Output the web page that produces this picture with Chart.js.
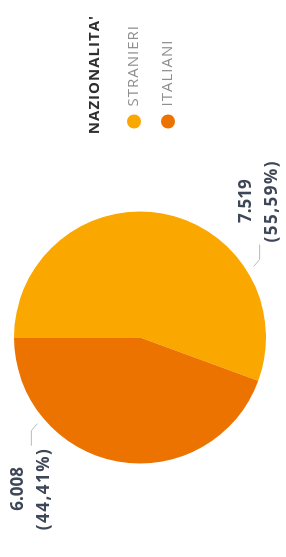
<!DOCTYPE html>
<html>
<head>
<meta charset="utf-8">
<script src="https://cdn.jsdelivr.net/npm/chart.js@4.4.1/dist/chart.umd.min.js"></script>
<style>
    html, body { margin: 0; padding: 0; background: #fff; overflow: hidden; }
    /* chart is laid out 557x286 and turned on its side */
    #wrap {
        position: absolute; left: 0; top: 0;
        width: 557px; height: 286px;
        transform-origin: 0 0;
        transform: translate(0, 557px) rotate(-90deg);
    }
</style>
</head>
<body>
<div id="wrap"><canvas id="pieChart" width="557" height="286"></canvas></div>
<script>
// Data
const categories = ['STRANIERI', 'ITALIANI'];
const values = [7519, 6008];
const legendTitle = "NAZIONALITA'";
const sliceColors = ['#FAA700', '#EC7300'];

// Format helpers (italian style: 7.519 / 55,59%)
function formatNumber(n) {
    return String(n).replace(/\B(?=(\d{3})+(?!\d))/g, '.');
}
function formatPercent(v, total) {
    return (v / total * 100).toFixed(2).replace('.', ',') + '%';
}

// Legend text in the picture is spaced out a bit
const letterSpacingPlugin = {
    id: 'letterSpacing',
    beforeLayout(chart) { chart.ctx.letterSpacing = '1px'; },
    beforeDraw(chart) { chart.ctx.letterSpacing = '1px'; }
};

// Value labels with a small bent leader line
const sliceLabelsPlugin = {
    id: 'sliceLabels',
    afterDatasetsDraw(chart, args, opts) {
        const ctx = chart.ctx;
        const meta = chart.getDatasetMeta(0);
        const data = chart.data.datasets[0].data;
        const total = data.reduce((a, b) => a + b, 0);

        meta.data.forEach(function(arc, i) {
            const p = arc.getProps(['x', 'y', 'outerRadius'], true);
            const ang = opts.anchorAngles[i] * Math.PI / 180;
            const r = p.outerRadius + 8;
            const side = Math.cos(ang) >= 0 ? 1 : -1;
            const vside = Math.sin(ang) >= 0 ? 1 : -1;

            const x0 = p.x + Math.cos(ang) * r;
            const y0 = p.y + Math.sin(ang) * r;
            const x1 = x0 + side * 7;
            const y1 = y0 + vside * 6;
            const x2 = x1 + side * 15;

            ctx.save();
            ctx.strokeStyle = '#b3bac6';
            ctx.lineWidth = 1;
            ctx.beginPath();
            ctx.moveTo(x0, y0);
            ctx.lineTo(x1, y1);
            ctx.lineTo(x2, y1);
            ctx.stroke();

            const line1 = formatNumber(data[i]);
            const line2 = '(' + formatPercent(data[i], total) + ')';

            ctx.fillStyle = '#3e4757';
            ctx.textBaseline = 'middle';
            ctx.textAlign = 'center';
            ctx.font = 'bold 17px "Open Sans", sans-serif';
            ctx.letterSpacing = '0px';
            const w1 = ctx.measureText(line1).width;
            ctx.letterSpacing = '1.5px';
            const w2 = ctx.measureText(line2).width;
            const blockW = Math.max(w1, w2);
            const cx = x2 + side * (2 + blockW / 2);

            ctx.letterSpacing = '0px';
            ctx.fillText(line1, cx, y1 - 13);
            ctx.letterSpacing = '1.5px';
            ctx.fillText(line2, cx, y1 + 13);
            ctx.restore();
        });
    }
};

const ctx = document.getElementById('pieChart').getContext('2d');
new Chart(ctx, {
    type: 'pie',
    data: {
        labels: categories,
        datasets: [{
            data: values,
            backgroundColor: sliceColors,
            borderWidth: 0,
            hoverOffset: 0
        }]
    },
    options: {
        responsive: false,
        animation: false,
        layout: {
            padding: { left: 30, right: 15, top: 14, bottom: 20 }
        },
        plugins: {
            legend: {
                position: 'right',
                align: 'center',
                title: {
                    display: true,
                    text: legendTitle,
                    position: 'end',
                    color: '#2f2f2f',
                    padding: 2,
                    font: { family: '"Open Sans", sans-serif', size: 15, weight: 'bold' }
                },
                labels: {
                    usePointStyle: true,
                    pointStyle: 'circle',
                    boxWidth: 15,
                    boxHeight: 10,
                    padding: 19,
                    color: '#8f8f8f',
                    font: { family: '"Open Sans", sans-serif', size: 15, weight: 'normal' }
                }
            },
            tooltip: { enabled: false },
            sliceLabels: {
                anchorAngles: [58, 230]
            }
        }
    },
    plugins: [letterSpacingPlugin, sliceLabelsPlugin]
});
</script>
</body>
</html>
